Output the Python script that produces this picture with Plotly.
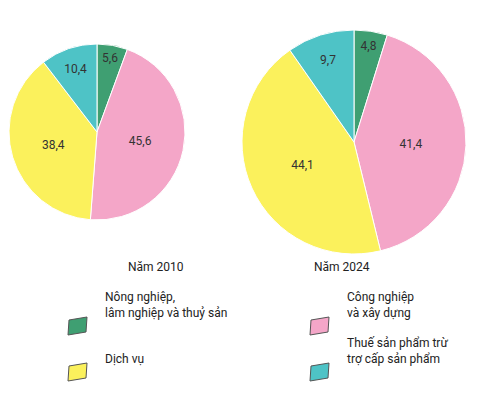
import plotly.graph_objects as go

cats = ["Nông nghiệp, lâm nghiệp và thuỷ sản", "Công nghiệp và xây dựng", "Dịch vụ", "Thuế sản phẩm trừ trợ cấp sản phẩm"]
v2010 = [5.6, 45.6, 38.4, 10.4]
v2024 = [4.8, 41.4, 44.1, 9.7]
colors = ["#3f9f72", "#f4a6c8", "#fbf15c", "#4ec3c6"]

W, H = 503, 400
def px(x, y): return x / W, 1 - y / H

fig = go.Figure()
for vals, dom in [(v2010, dict(x=[1/W, 177/W], y=[1-212/H, 1-36/H])),
                  (v2024, dict(x=[234/W, 458/W], y=[1-246/H, 1-22/H]))]:
    fig.add_trace(go.Pie(values=vals, labels=cats, sort=False, direction="clockwise", rotation=0,
                         marker=dict(colors=colors, line=dict(color="white", width=1)),
                         text=[f"{v:.1f}".replace(".", ",") for v in vals], textinfo="text",
                         textposition="inside", insidetextorientation="horizontal",
                         textfont=dict(color="#333", size=12, family="Roboto"),
                         domain=dom, showlegend=False, hoverinfo="skip"))

anns = [("Năm 2010", 118, 268), ("Năm 2024", 364, 268)]
for t, x, y in anns:
    xx, yy = px(x, y)
    fig.add_annotation(x=xx, y=yy, xref="paper", yref="paper", text=t, showarrow=False,
                       font=dict(size=12, color="#222", family="Roboto"))

leg = [("Nông nghiệp,<br>lâm nghiệp và thuỷ sản", 70, 318, colors[0]),
       ("Công nghiệp<br>và xây dựng", 312, 318, colors[1]),
       ("Dịch vụ", 70, 364, colors[2]),
       ("Thuế sản phẩm trừ<br>trợ cấp sản phẩm", 312, 364, colors[3])]
shapes = []
for t, x, y, c in leg:
    pts = [(x-10, y+9), (x-9, y-6), (x+9, y-9), (x+8, y+6)]
    path = "M " + " L ".join(f"{a/W},{1-b/H}" for a, b in pts) + " Z"
    shapes.append(dict(type="path", xref="paper", yref="paper", path=path,
                       fillcolor=c, line=dict(color="#555", width=1)))
    xx, yy = px(x + 25, y - 4)
    fig.add_annotation(x=xx, y=yy, xref="paper", yref="paper", text=t, showarrow=False,
                       xanchor="left", align="left", font=dict(size=12, color="#222", family="Roboto"))

fig.update_layout(width=W, height=H, margin=dict(l=0, r=0, t=0, b=0),
                  paper_bgcolor="white", shapes=shapes)
fig.write_html("out.html")
